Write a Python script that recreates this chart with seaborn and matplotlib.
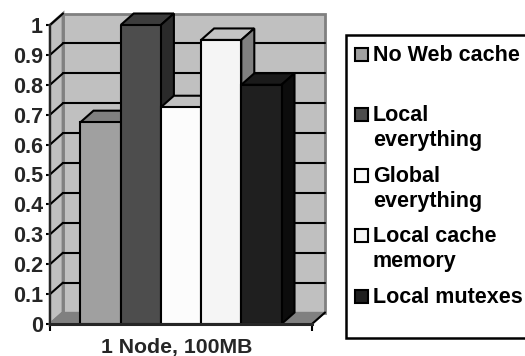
import numpy as np
import pandas as pd
import matplotlib
matplotlib.use('Agg')
import matplotlib.pyplot as plt
from matplotlib.patches import Polygon, Rectangle
from matplotlib.transforms import ScaledTranslation
import seaborn as sns

# values
series = ['No Web cache', 'Local\neverything', 'Global\neverything', 'Local cache\nmemory', 'Local mutexes']
values = [0.675, 1.0, 0.725, 0.95, 0.8]
group = ['1 Node, 100MB']
y_ticks = [0, 0.1, 0.2, 0.3, 0.4, 0.5, 0.6, 0.7, 0.8, 0.9, 1]
y_labels = ['0', '0.1', '0.2', '0.3', '0.4', '0.5', '0.6', '0.7', '0.8', '0.9', '1']

front_colors = ['#a0a0a0', '#4d4d4d', '#fcfcfc', '#f5f5f5', '#1f1f1f']
top_colors = ['#808080', '#3c3c3c', '#c0c0c0', '#c4c4c4', '#1a1a1a']
side_colors = ['#707070', '#2a2a2a', '#808080', '#808080', '#0c0c0c']

sns.set_theme(style='white')
plt.rcParams['font.family'] = ['Liberation Sans', 'DejaVu Sans']
plt.rcParams['font.weight'] = 'bold'

df = pd.DataFrame({'group': group * len(series), 'series': series, 'value': values})

fig = plt.figure(figsize=(5.25, 3.56), dpi=100)
W, H = 525, 356
ax = fig.add_axes([50 / W, 1 - 324 / H, 262 / W, 299 / H])

sns.barplot(data=df, x='group', y='value', hue='series', hue_order=series,
            palette=front_colors, width=201 / 262, gap=0, dodge=True,
            edgecolor='black', linewidth=1.5, saturation=1, legend=False, ax=ax, zorder=5)

ax.set_xlim(-0.5, 0.5)
ax.set_ylim(0, 1)

# depth of the fake 3d box, in axes data units
dx = 13 / 262
dy = 11.5 / 299

# back wall, side wall, floor
ax.add_patch(Polygon([(-0.5 + dx, dy), (0.5 + dx, dy), (0.5 + dx, 1 + dy), (-0.5 + dx, 1 + dy)],
                     fc='#c0c0c0', ec='#808080', lw=2, clip_on=False, zorder=1))
ax.add_patch(Polygon([(-0.5, 0), (-0.5 + dx, dy), (-0.5 + dx, 1 + dy), (-0.5, 1)],
                     fc='#c0c0c0', ec='#808080', lw=2, clip_on=False, zorder=1))
ax.add_patch(Polygon([(-0.5, 0), (0.5, 0), (0.5 + dx, dy), (-0.5 + dx, dy)],
                     fc='#808080', ec='#808080', lw=1, clip_on=False, zorder=1.5))

# gridlines on the walls
for t in y_ticks[1:-1]:
    ax.plot([-0.5 + dx, 0.5 + dx], [t + dy, t + dy], color='black', lw=1.5, clip_on=False, zorder=2)
for t in y_ticks:
    ax.plot([-0.5, -0.5 + dx], [t, t + dy], color='black' if t > 0 else '#808080', lw=1.5, clip_on=False, zorder=2)
ax.plot([0.5, 0.5 + dx], [0, dy], color='black', lw=1.5, clip_on=False, zorder=2)

# depth faces of the bars, painted left to right
for i, bar in enumerate(ax.patches[:len(series)]):
    x0, w, h = bar.get_x(), bar.get_width(), bar.get_height()
    z = 3 + i
    bar.set_zorder(z + 0.2)
    ax.add_patch(Polygon([(x0, h), (x0 + dx, h + dy), (x0 + w + dx, h + dy), (x0 + w, h)],
                         fc=top_colors[i], ec='black', lw=1.5, clip_on=False, zorder=z))
    ax.add_patch(Polygon([(x0 + w, 0), (x0 + w + dx, dy), (x0 + w + dx, h + dy), (x0 + w, h)],
                         fc=side_colors[i], ec='black', lw=1.5, clip_on=False, zorder=z))

# axes
for s in ['top', 'right']:
    ax.spines[s].set_visible(False)
ax.spines['left'].set_linewidth(1.5)
ax.spines['bottom'].set_linewidth(2.2)
ax.spines['left'].set_zorder(20)
ax.spines['bottom'].set_zorder(20)
ax.set_yticks(y_ticks, y_labels, fontsize=15.5, fontweight='bold')
ax.tick_params(axis='y', length=3, width=1.5, color='black', left=True, pad=2)
ax.set_xticks([0], group, fontsize=15.3, fontweight='bold')
ax.tick_params(axis='x', length=0, pad=10)
ax.set_xticks([-0.5, 0.5], minor=True)
ax.tick_params(axis='x', which='minor', length=5, width=1.5, color='black', bottom=True)
ax.set_xlabel('')
ax.set_ylabel('')

# category label sits a little left of the axis centre in the reference
for lab in ax.get_xticklabels():
    lab.set_transform(lab.get_transform() + ScaledTranslation(-4.5 / 100, 0, fig.dpi_scale_trans))

# legend box runs off the right edge of the image, swatch sits on the first text line
fig.add_artist(Rectangle((346 / W, 1 - 338 / H), 200 / W, 303 / H, transform=fig.transFigure,
                         fc='white', ec='black', lw=1.8))
legend_y = [54, 114, 175, 235, 296]
for name, color, ly in zip(series, front_colors, legend_y):
    fig.add_artist(Rectangle((354.5 / W, 1 - (ly + 7) / H), 13 / W, 13 / H, transform=fig.transFigure,
                             fc=color, ec='black', lw=1.5))
    fig.text(373 / W, 1 - (ly - 9) / H, name, fontsize=15.5, fontweight='bold', color='black',
             va='top', ha='left', linespacing=1.27)

fig.savefig('out.png', dpi=100)
